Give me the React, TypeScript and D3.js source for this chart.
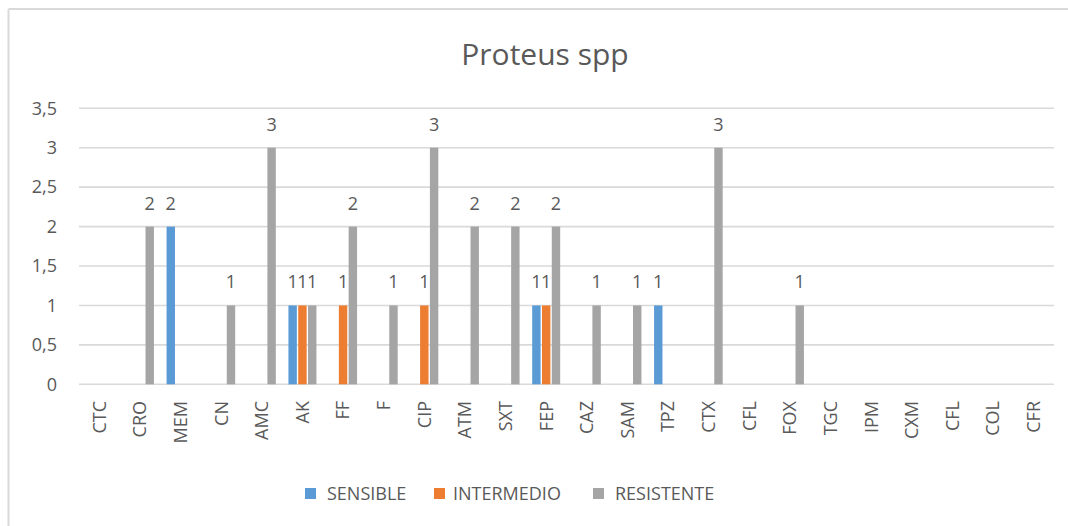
import React from "react";
import * as d3 from "d3";

const categories = ["CTC","CRO","MEM","CN","AMC","AK","FF","F","CIP","ATM","SXT","FEP","CAZ","SAM","TPZ","CTX","CFL","FOX","TGC","IPM","CXM","CFL","COL","CFR"];
const sensible = [null,null,2,null,null,1,null,null,null,null,null,1,null,null,1,null,null,null,null,null,null,null,null,null];
const intermedio = [null,null,null,null,null,1,1,null,1,null,null,1,null,null,null,null,null,null,null,null,null,null,null,null];
const resistente = [null,2,null,1,3,1,2,1,3,2,2,2,1,1,null,3,null,1,null,null,null,null,null,null];
const seriesNames = ["SENSIBLE","INTERMEDIO","RESISTENTE"];
const yTicks = [0,0.5,1,1.5,2,2.5,3,3.5];
const title = "Proteus spp";

const colors = ["#5B9BD5","#ED7D31","#A5A5A5"];
const W = 1068, H = 526;
const FONT = "'Open Sans', sans-serif";
const TXT = "#595959";

export default function App() {
  const series = [sensible, intermedio, resistente];
  const x = d3.scaleBand<number>().domain(categories.map((_, i) => i)).range([79, 1054]).padding(0);
  const inner = d3.scaleBand<number>().domain([0,1,2]).range([-14, 14]).paddingInner(0.14);
  const y = d3.scaleLinear().domain([0, 3.5]).range([384.3, 108.3]);
  const fmt = (v: number) => String(v).replace(".", ",");

  const legendX = [305, 434, 593];

  return (
    <svg width={W} height={H} style={{ position: "absolute", left: 0, top: 0, background: "#fff" }} fontFamily={FONT}>
      <rect x={0} y={0} width={W} height={H} fill="#fff" />
      <line x1={8.5} y1={9} x2={W} y2={9} stroke="#d9d9d9" strokeWidth={2} />
      <line x1={8.5} y1={9} x2={8.5} y2={H} stroke="#d9d9d9" strokeWidth={2} />
      <text x={545} y={65} textAnchor="middle" fontSize={30} fill={TXT}>{title}</text>
      {yTicks.map(t => (
        <g key={t}>
          <line x1={79} x2={1054} y1={y(t)} y2={y(t)} stroke="#d9d9d9" strokeWidth={1.6} />
          <text x={57} y={y(t)} dy="0.35em" textAnchor="end" fontSize={18} fill={TXT}>{fmt(t)}</text>
        </g>
      ))}
      {series.map((s, si) => s.map((v, ci) => v == null ? null : (
        <g key={`${si}-${ci}`}>
          <rect x={x(ci)! + x.bandwidth() / 2 + inner(si)!} y={y(v)} width={inner.bandwidth()} height={y(0) - y(v)} fill={colors[si]} />
          <text x={x(ci)! + x.bandwidth() / 2 + inner(si)! + inner.bandwidth() / 2} y={y(v) - 17} textAnchor="middle" fontSize={18} fill={TXT}>{v}</text>
        </g>
      )))}
      {categories.map((c, i) => (
        <text key={i} transform={`translate(${x(i)! + x.bandwidth() / 2},401) rotate(-90)`} dy="0.35em" textAnchor="end" fontSize={18} fill={TXT}>{c}</text>
      ))}
      {seriesNames.map((n, i) => (
        <g key={n}>
          <rect x={legendX[i]} y={488} width={11} height={11} fill={colors[i]} />
          <text x={legendX[i] + (i === 1 ? 19 : 22)} y={494} dy="0.35em" fontSize={18} fill={TXT}>{n}</text>
        </g>
      ))}
    </svg>
  );
}
